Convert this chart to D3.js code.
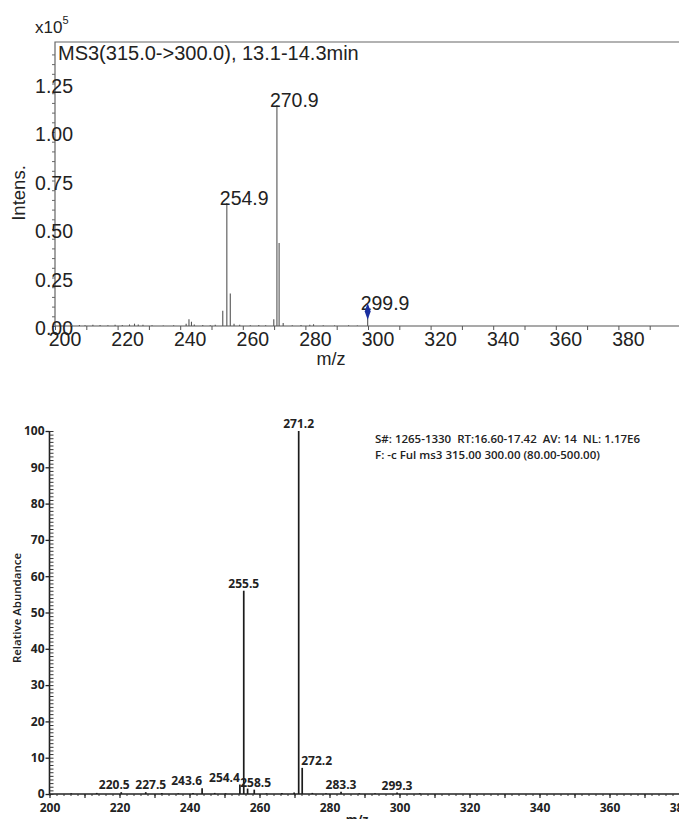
<!DOCTYPE html>
<html lang="en">
  <head>
      <meta charset="utf-8">
      <title>MS3 spectra</title>
      <script type="text/javascript" src="https://cdn.jsdelivr.net/npm/d3@7"></script>
      <style>
        body { margin: 0; background: #fff; }
        svg { display: block; }
      </style>
  </head>
  <body>
      <script type="text/javascript">

      // top spectrum (intensity in units of 1e5)
      var topMz  = [205.3, 207.8, 209.6, 212.1, 214.4, 216.9, 219.2, 221.5, 223.8, 225.4, 226.6, 228.1, 231.0, 234.6, 237.9,
                    241.9, 242.8, 243.6, 244.5, 247.2, 249.6, 251.2, 253.6, 254.9, 256.0, 257.2, 259.0, 262.4, 265.1, 267.3,
                    269.9, 270.9, 271.6, 272.9, 275.8, 278.6, 281.4, 282.6, 285.7, 289.3, 293.8, 296.6, 299.9];
      var topInt = [0.006, 0.005, 0.004, 0.006, 0.005, 0.004, 0.007, 0.005, 0.008, 0.012, 0.008, 0.006, 0.004, 0.003, 0.004,
                    0.012, 0.035, 0.022, 0.008, 0.005, 0.004, 0.006, 0.079, 0.634, 0.168, 0.012, 0.006, 0.004, 0.005, 0.004,
                    0.035, 1.139, 0.428, 0.015, 0.004, 0.005, 0.006, 0.009, 0.004, 0.003, 0.004, 0.003, 0.095];
      var topLabels = [254.9, 270.9, 299.9];
      var topPrecursor = 299.9, topPrecursorInt = 0.075;
      var topTitle = "MS3(315.0->300.0), 13.1-14.3min";

      // bottom spectrum (relative abundance, %)
      var botMz  = [206.2, 213.5, 220.5, 227.5, 232.1, 236.8, 241.0, 243.6, 247.2, 250.3, 254.4, 255.5, 256.6, 258.5,
                    262.0, 266.4, 269.9, 271.2, 272.2, 275.1, 279.0, 283.3, 288.5, 293.0, 299.3, 305.8];
      var botRel = [0.2, 0.3, 0.5, 0.5, 0.3, 0.2, 0.3, 1.6, 0.3, 0.2, 2.6, 56.0, 1.5, 1.2,
                    0.2, 0.3, 0.4, 100, 7.2, 0.3, 0.2, 0.6, 0.2, 0.2, 0.4, 0.2];
      var botLabels = [220.5, 227.5, 243.6, 254.4, 255.5, 258.5, 271.2, 272.2, 283.3, 299.3];
      var botHeader = ["S#: 1265-1330  RT:16.60-17.42  AV: 14  NL: 1.17E6",
                       "F: -c Ful ms3 315.00 300.00 (80.00-500.00)"];

      var w = 679;
      var h = 819;
      var svg = d3.select("body").append("svg").attr("width", w).attr("height", h);

      var sans = "'Liberation Sans', Arial, sans-serif";
      var xcal = "'Open Sans', 'Noto Sans', sans-serif";

      // ---------- top chart ----------
      var xTop = d3.scaleLinear().domain([200, 400]).range([55, 681]);
      var yTop = d3.scaleLinear().domain([0, 1.464]).range([326, 42]);
      var gTop = svg.append("g");

      // frame
      gTop.append("path")
        .attr("d", "M" + xTop(200) + "," + yTop(0) + "V" + yTop(1.464) + "H" + w)
        .attr("fill", "none").attr("stroke", "#666").attr("stroke-width", 1.2);
      gTop.append("line")
        .attr("x1", xTop(200)).attr("x2", w).attr("y1", yTop(0)).attr("y2", yTop(0))
        .attr("stroke", "#555").attr("stroke-width", 1.2);

      var xAxTop = gTop.append("g").attr("transform", "translate(0," + yTop(0) + ")")
        .call(d3.axisBottom(xTop).tickValues(d3.range(200, 400, 10)).tickSize(4).tickPadding(2)
          .tickFormat(function(d){ return d % 20 == 0 ? d : ""; }));
      xAxTop.select(".domain").remove();
      xAxTop.selectAll("line").attr("stroke", "#555");
      xAxTop.selectAll("text").attr("dx", 9.5).attr("font-family", sans).attr("font-size", "19.5px").attr("fill", "#222");

      var yAxTop = gTop.append("g").attr("transform", "translate(" + xTop(200) + ",0)")
        .call(d3.axisLeft(yTop).tickValues(d3.range(0, 29).map(function(i){ return i * 0.05; })).tickSize(3)
          .tickFormat(function(d){ return Math.abs(d * 4 - Math.round(d * 4)) < 1e-6 ? d3.format(".2f")(d) : ""; }));
      yAxTop.select(".domain").remove();
      yAxTop.selectAll("line").attr("stroke", "#666");
      yAxTop.selectAll("text").attr("x", 18).attr("dy", "0.45em")
        .attr("font-family", sans).attr("font-size", "19.5px").attr("fill", "#222");

      // peaks
      gTop.selectAll(".peak").data(topMz).enter().append("line").attr("class", "peak")
        .attr("x1", function(d){ return xTop(d); }).attr("x2", function(d){ return xTop(d); })
        .attr("y1", yTop(0)).attr("y2", function(d, i){ return yTop(topInt[i]); })
        .attr("stroke", "#555").attr("stroke-width", 1.1);

      gTop.selectAll(".plab").data(topLabels).enter().append("text").attr("class", "plab")
        .text(function(d){ return d.toFixed(1); })
        .attr("x", function(d){ return xTop(d) - 7; })
        .attr("y", function(d){ return yTop(topInt[topMz.indexOf(d)]); })
        .attr("dy", 2)
        .attr("font-family", sans).attr("font-size", "19.5px").attr("fill", "#222");

      gTop.append("path")
        .attr("d", d3.symbol().type(d3.symbolDiamond).size(48))
        .attr("transform", "translate(" + xTop(topPrecursor) + "," + yTop(topPrecursorInt) + ") scale(0.8,1.3)")
        .attr("fill", "#1a2fa0");

      gTop.append("text").text(topTitle).attr("x", 58).attr("y", 60)
        .attr("font-family", sans).attr("font-size", "20px").attr("fill", "#222");

      var mult = gTop.append("text").attr("x", 35).attr("y", 33)
        .attr("font-family", sans).attr("font-size", "17px").attr("fill", "#222");
      mult.append("tspan").text("x10");
      mult.append("tspan").text("5").attr("font-size", "11px").attr("dy", -9);

      gTop.append("text").text("Intens.")
        .attr("transform", "translate(25,193) rotate(-90)")
        .attr("text-anchor", "middle")
        .attr("font-family", sans).attr("font-size", "18.5px").attr("fill", "#222");

      gTop.append("text").text("m/z").attr("x", 331).attr("y", 365)
        .attr("text-anchor", "middle")
        .attr("font-family", sans).attr("font-size", "18px").attr("fill", "#222");

      // ---------- bottom chart ----------
      var xBot = d3.scaleLinear().domain([200, 380]).range([49.5, 679.5]);
      var yBot = d3.scaleLinear().domain([0, 100]).range([794, 431]);
      var gBot = svg.append("g");

      gBot.append("line").attr("x1", xBot(200)).attr("x2", w).attr("y1", yBot(0)).attr("y2", yBot(0))
        .attr("stroke", "#222").attr("stroke-width", 1.6);
      gBot.append("line").attr("x1", xBot(200)).attr("x2", xBot(200)).attr("y1", yBot(0)).attr("y2", yBot(100))
        .attr("stroke", "#222").attr("stroke-width", 1.6);

      // y axis: major ticks outside, minor ticks inside
      var yAxBot = gBot.append("g").attr("transform", "translate(" + xBot(200) + ",0)")
        .call(d3.axisLeft(yBot).tickValues(d3.range(0, 101, 10)).tickSize(4).tickPadding(1));
      yAxBot.select(".domain").remove();
      yAxBot.selectAll("line").attr("stroke", "#222").attr("stroke-width", 1.3);
      yAxBot.selectAll("text").attr("font-family", xcal).attr("font-weight", 700)
        .attr("font-size", "12px").attr("fill", "#222");
      var yMinBot = gBot.append("g").attr("transform", "translate(" + xBot(200) + ",0)")
        .call(d3.axisRight(yBot).tickValues(d3.range(0, 101, 1)).tickSize(4).tickFormat(""));
      yMinBot.select(".domain").remove();
      yMinBot.selectAll("line").attr("stroke", "#333").attr("stroke-width", 1);

      // x axis
      var xMinBot = gBot.append("g").attr("transform", "translate(0," + yBot(0) + ")")
        .call(d3.axisBottom(xBot).tickValues(d3.range(200, 381, 2)).tickSize(2).tickFormat(""));
      xMinBot.select(".domain").remove();
      xMinBot.selectAll("line").attr("stroke", "#333");
      var xAxBot = gBot.append("g").attr("transform", "translate(0," + yBot(0) + ")")
        .call(d3.axisBottom(xBot).tickValues(d3.range(200, 381, 10)).tickSize(4).tickPadding(5)
          .tickFormat(function(d){ return d % 20 == 0 ? d : ""; }));
      xAxBot.select(".domain").remove();
      xAxBot.selectAll("line").attr("stroke", "#222").attr("stroke-width", 1.2);
      xAxBot.selectAll("text").attr("font-family", xcal).attr("font-weight", 700)
        .attr("font-size", "12px").attr("fill", "#222");

      // peaks
      gBot.selectAll(".bpeak").data(botMz).enter().append("line").attr("class", "bpeak")
        .attr("x1", function(d){ return xBot(d); }).attr("x2", function(d){ return xBot(d); })
        .attr("y1", yBot(0)).attr("y2", function(d, i){ return yBot(botRel[i]); })
        .attr("stroke", "#1c1c1c").attr("stroke-width", 1.7);

      // label placement as drawn by the instrument software
      var anchorOf = { 243.6: "end", 254.4: "end", 258.5: "start", 272.2: "start" };
      var shiftOf = { 220.5: -7, 227.5: 5, 243.6: 0, 254.4: 0, 258.5: -14, 272.2: -1 };
      gBot.selectAll(".blab").data(botLabels).enter().append("text").attr("class", "blab")
        .text(function(d){ return d.toFixed(1); })
        .attr("x", function(d){ return xBot(d) + (shiftOf[d] || 0); })
        .attr("y", function(d){ return Math.min(yBot(botRel[botMz.indexOf(d)]) - 3, 791); })
        .attr("text-anchor", function(d){ return anchorOf[d] || "middle"; })
        .attr("font-family", xcal).attr("font-weight", 700).attr("font-size", "12px").attr("fill", "#222");

      gBot.selectAll(".hdr").data(botHeader).enter().append("text").attr("class", "hdr")
        .text(function(d){ return d; })
        .attr("x", 375).attr("y", function(d, i){ return 443 + i * 16; })
        .attr("xml:space", "preserve").style("white-space", "pre")
        .attr("font-family", xcal).attr("font-weight", 600).attr("font-size", "11.5px").attr("fill", "#222");

      gBot.append("text").text("Relative Abundance")
        .attr("transform", "translate(21,608) rotate(-90)")
        .attr("text-anchor", "middle")
        .attr("font-family", xcal).attr("font-weight", 600).attr("font-size", "11.5px").attr("fill", "#222");

      gBot.append("text").text("m/z").attr("x", 357).attr("y", 824)
        .attr("text-anchor", "middle")
        .attr("font-family", xcal).attr("font-weight", 700).attr("font-size", "12px").attr("fill", "#222");

      </script>
  </body>
</html>
